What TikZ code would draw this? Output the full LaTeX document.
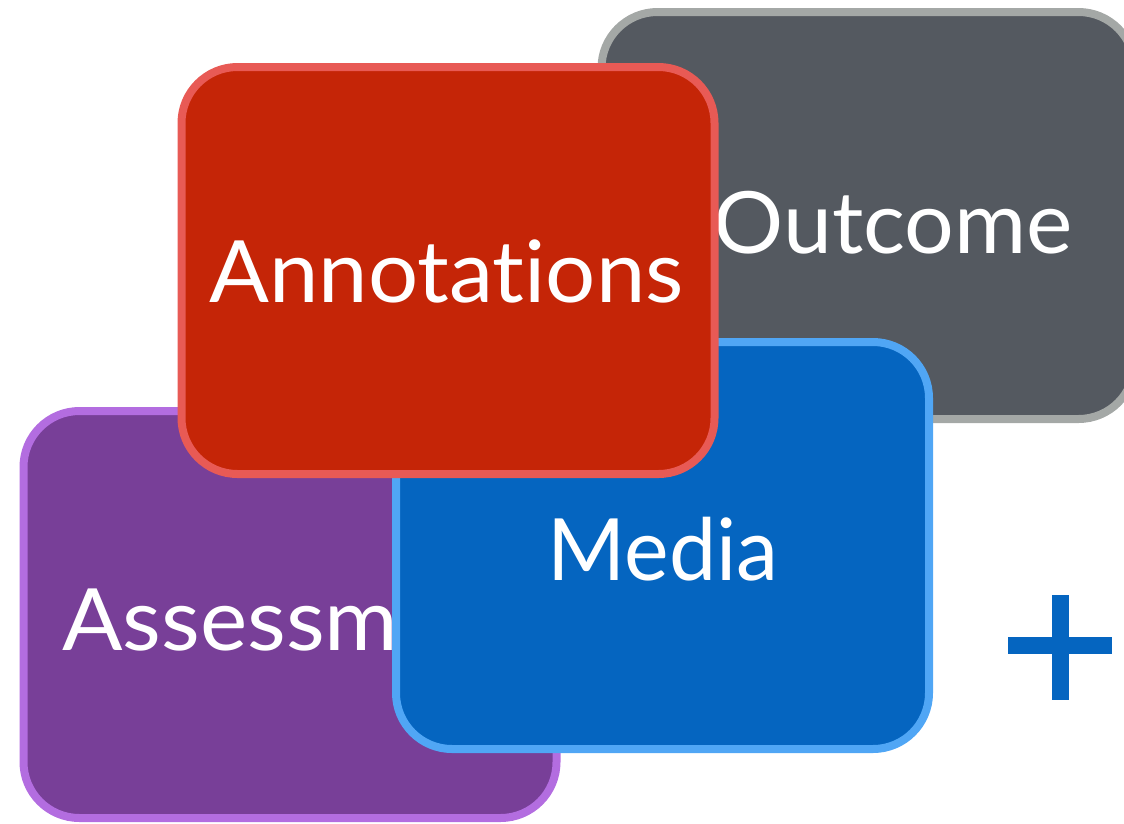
\documentclass[tikz,border=0pt]{standalone}
\usepackage{fontspec}
\setmainfont{Lato}[Ligatures={NoCommon}]
\definecolor{outfill}{HTML}{545960}
\definecolor{outline}{HTML}{A4A8A6}
\definecolor{annfill}{HTML}{C52507}
\definecolor{annline}{HTML}{E85A55}
\definecolor{assfill}{HTML}{783F98}
\definecolor{assline}{HTML}{B36DE0}
\definecolor{medfill}{HTML}{0565C0}
\definecolor{medline}{HTML}{50A6F5}
\tikzset{
  card/.style={rounded corners=56pt, line width=8pt, minimum width=533pt, minimum height=407pt, inner sep=0pt},
  cardtext/.style={text=white, font=\fontsize{86}{90}\selectfont, inner sep=0pt}
}
\begin{document}
\begin{tikzpicture}[x=1pt,y=-1pt]
\useasboundingbox (0,0) rectangle (1124,823);
\begin{scope}
\clip (0,0) rectangle (1124,823);
\node[card, draw=outline, fill=outfill] (outcome) at (868,215.5) {};
\node[cardtext, anchor=base east, xscale=1.02] (outcometext) at (1073,253) {Outcome};
\node[card, draw=assline, fill=assfill] (assessment) at (290,614.5) {};
\node[cardtext, anchor=base west, xscale=1.04] (assessmenttext) at (62,650) {Assessment};
\node[card, draw=medline, fill=medfill] (media) at (662.5,545.5) {};
\node[cardtext, anchor=base, xscale=0.98] (mediatext) at (663,580) {Media};
\node[card, draw=annline, fill=annfill] (annotations) at (448,270.5) {};
\node[cardtext, anchor=base, xscale=1.03] (annotationstext) at (446.5,302) {Annotations};
\fill[medfill] (1008,637) rectangle (1112,654);
\fill[medfill] (1052,595) rectangle (1069,700);
\end{scope}
\end{tikzpicture}
\end{document}
